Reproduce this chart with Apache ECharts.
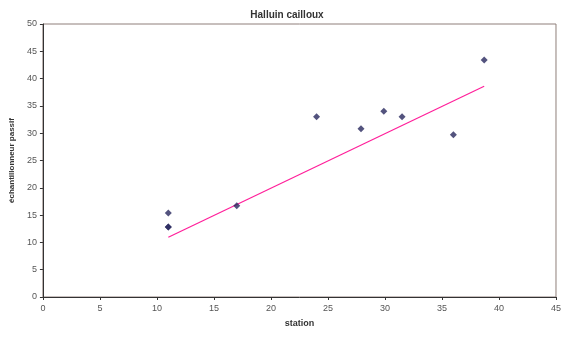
<!DOCTYPE html>
<html>
<head>
<meta charset="utf-8">
<script src="https://cdn.jsdelivr.net/npm/echarts@6/dist/echarts.min.js"></script>
<style>
  html, body { margin: 0; padding: 0; background: #fff; }
  #chart { width: 564px; height: 347px; }
</style>
</head>
<body>
<div id="chart"></div>
<script>
// Station readings (x) against passive sampler readings (y)
const stationValues = [11, 11, 11, 17, 24, 27.9, 29.9, 31.5, 36, 38.7];
const samplerValues = [15.4, 12.8, 12.8, 16.7, 33.0, 30.8, 34.0, 33.0, 29.7, 43.4];

// Trend line end points
const trendX = [11, 38.7];
const trendY = [10.95, 38.6];

const xTicks = [0, 5, 10, 15, 20, 25, 30, 35, 40, 45];
const yTicks = [0, 5, 10, 15, 20, 25, 30, 35, 40, 45, 50];

const points = stationValues.map((x, i) => [x, samplerValues[i]]);
const trend = trendX.map((x, i) => [x, trendY[i]]);

const labelFont = { fontFamily: 'Liberation Sans, Arial, sans-serif', fontSize: 9, color: '#555' };

const chart = echarts.init(document.getElementById('chart'), null, { renderer: 'canvas' });
chart.setOption({
  animation: false,
  backgroundColor: '#fff',
  title: {
    text: 'Halluin cailloux',
    left: 282,
    textAlign: 'center',
    top: 5,
    textStyle: { fontFamily: 'Liberation Sans, Arial, sans-serif', fontSize: 10, fontWeight: 'bold', color: '#333' }
  },
  grid: {
    left: 37, right: 4, top: 24, bottom: 50,
    show: true, borderColor: '#8f7f7a', borderWidth: 1, backgroundColor: '#fff'
  },
  xAxis: {
    type: 'value',
    min: xTicks[0], max: xTicks[xTicks.length - 1], interval: 5,
    name: 'station',
    nameLocation: 'middle',
    nameGap: 22,
    nameTextStyle: { fontFamily: 'Liberation Sans, Arial, sans-serif', fontSize: 9, fontWeight: 'bold', color: '#333' },
    axisLine: { show: true, onZero: false, lineStyle: { color: '#333', width: 1 } },
    axisTick: { show: true, length: 3, lineStyle: { color: '#333' } },
    axisLabel: Object.assign({ margin: 7 }, labelFont),
    splitLine: { show: false }
  },
  yAxis: {
    type: 'value',
    min: yTicks[0], max: yTicks[yTicks.length - 1], interval: 5,
    name: 'échantillonneur passif',
    nameLocation: 'middle',
    nameGap: 17,
    nameRotate: 90,
    nameTextStyle: { fontFamily: 'Liberation Sans, Arial, sans-serif', fontSize: 8, fontWeight: 'bold', color: '#333' },
    axisLine: { show: true, onZero: false, lineStyle: { color: '#333', width: 1 } },
    axisTick: { show: true, length: 3, lineStyle: { color: '#333' } },
    axisLabel: Object.assign({ margin: 6 }, labelFont),
    splitLine: { show: false }
  },
  series: [
    {
      type: 'line',
      data: trend,
      symbol: 'none',
      lineStyle: { color: '#ff1f9a', width: 1.2 },
      z: 2
    },
    {
      type: 'scatter',
      data: points,
      symbol: 'diamond',
      symbolSize: 7,
      itemStyle: { color: '#28285e' },
      z: 3
    }
  ]
});
</script>
</body>
</html>
